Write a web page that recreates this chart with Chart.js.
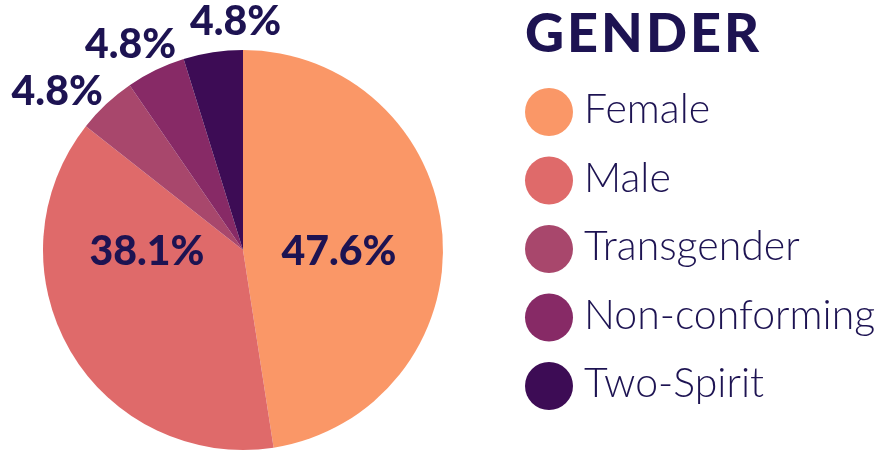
<!DOCTYPE html>
<html>
<head>
<meta charset="utf-8">
<script src="https://cdn.jsdelivr.net/npm/chart.js@4"></script>
<style>
  html, body { margin: 0; padding: 0; background: #fff; }
  #wrap { width: 892px; height: 453px; position: relative; }
</style>
</head>
<body>
<div id="wrap"><canvas id="genderChart"></canvas></div>
<script>
// chart data
const title = "GENDER";
const categories = ["Female", "Male", "Transgender", "Non-conforming", "Two-Spirit"];
const percentages = [47.6, 38.1, 4.8, 4.8, 4.8];
const sliceColors = ["#FA9767", "#DF6A6A", "#A8476C", "#872A66", "#3D0C55"];

const inkColor = "#1D1352";
// small outside labels get fanned out a bit so they don't collide (degrees)
const fanOut = [-3, 0, 7];

// draws percent labels on / around the slices
const sliceLabels = {
  id: "sliceLabels",
  afterDatasetsDraw(chart) {
    const ctx = chart.ctx;
    const meta = chart.getDatasetMeta(0);
    ctx.save();
    ctx.fillStyle = inkColor;
    ctx.font = "900 41px Lato, 'DejaVu Sans', sans-serif";
    ctx.textAlign = "center";
    ctx.textBaseline = "middle";
    let smallIdx = 0;
    meta.data.forEach((arc, i) => {
      const text = percentages[i].toFixed(1) + "%";
      const r = arc.outerRadius;
      let mid = (arc.startAngle + arc.endAngle) / 2;
      if (percentages[i] > 20) {
        // big slices: label sits on the horizontal through the centre
        const side = Math.cos(mid) >= 0 ? 1 : -1;
        ctx.fillText(text, arc.x + side * r * 0.48, arc.y + 2);
      } else {
        mid += (fanOut[smallIdx++] || 0) * Math.PI / 180;
        const dx = Math.cos(mid), dy = Math.sin(mid);
        const w = ctx.measureText(text).width;
        const ax = arc.x + dx * (r + 12);
        const ay = arc.y + dy * (r + 12);
        ctx.fillText(text, ax + dx * w / 2, ay + dy * 16);
      }
    });
    ctx.restore();
  }
};

// custom legend with title on the right side
const sideLegend = {
  id: "sideLegend",
  afterDraw(chart) {
    const ctx = chart.ctx;
    ctx.save();
    ctx.fillStyle = inkColor;
    ctx.font = "900 54px Lato, 'DejaVu Sans', sans-serif";
    ctx.textAlign = "left";
    ctx.textBaseline = "alphabetic";
    ctx.letterSpacing = "3px";
    ctx.fillText(title, 525, 52);
    ctx.letterSpacing = "0px";

    const bg = chart.data.datasets[0].backgroundColor;
    chart.data.labels.forEach((label, i) => {
      const cy = 112 + i * 68.5;
      ctx.beginPath();
      ctx.arc(549, cy, 24, 0, Math.PI * 2);
      ctx.fillStyle = bg[i];
      ctx.fill();
      ctx.fillStyle = inkColor;
      ctx.font = "300 41px Lato, 'DejaVu Sans', sans-serif";
      ctx.fillText(label, 584, cy + 11);
    });
    ctx.restore();
  }
};

new Chart(document.getElementById("genderChart"), {
  type: "pie",
  data: {
    labels: categories,
    datasets: [{
      data: percentages,
      backgroundColor: sliceColors,
      borderWidth: 0
    }]
  },
  options: {
    responsive: true,
    maintainAspectRatio: false,
    animation: false,
    layout: { padding: { top: 50, bottom: 3, left: 43, right: 449 } },
    plugins: {
      legend: { display: false },
      tooltip: { enabled: false }
    }
  },
  plugins: [sliceLabels, sideLegend]
});
</script>
</body>
</html>
